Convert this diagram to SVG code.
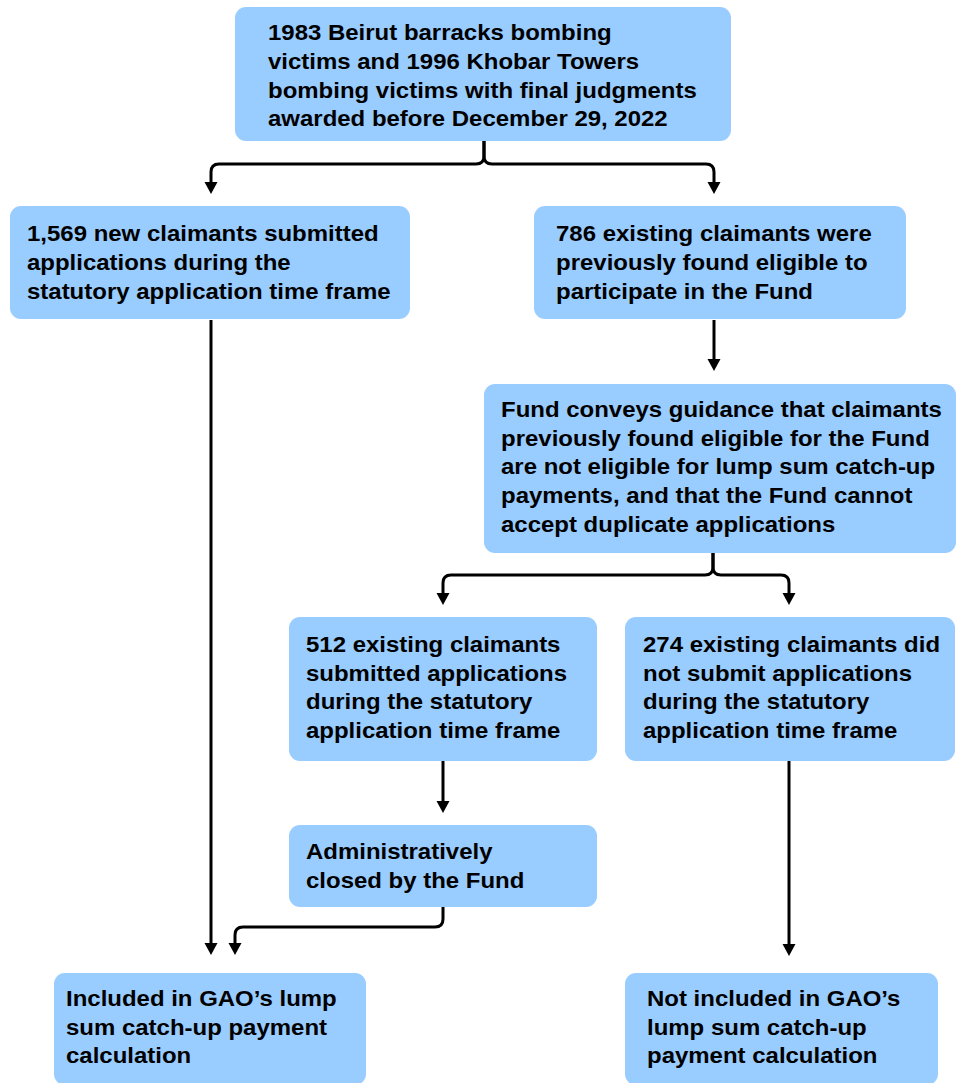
<svg xmlns="http://www.w3.org/2000/svg" width="961" height="1083" viewBox="0 0 961 1083">
<style>
.box{fill:#99CCFF;}
.t{font-family:"Liberation Sans",Arial,sans-serif;font-weight:bold;font-size:22px;fill:#000;}
.c{fill:none;stroke:#000;stroke-width:3;marker-end:url(#ah);}
</style>
<defs>
<marker id="ah" markerUnits="userSpaceOnUse" markerWidth="12" markerHeight="14" refX="0" refY="6.5" orient="auto" viewBox="0 0 12 13">
<path d="M0,0 L12,6.5 L0,13 z" fill="#000"/>
</marker>
</defs>
<rect width="961" height="1083" fill="#fff"/>
<g id="connectors">
<path class="c" d="M484,141 V156 Q484,164 476,164 H219 Q211,164 211,172 V182"/>
<path class="c" d="M484,141 V156 Q484,164 492,164 H706 Q714,164 714,172 V182"/>
<path class="c" d="M714,320 V359"/>
<path class="c" d="M713,553 V567 Q713,575 705,575 H451 Q443,575 443,583 V593"/>
<path class="c" d="M713,553 V567 Q713,575 721,575 H781 Q789,575 789,583 V593"/>
<path class="c" d="M443,761 V801"/>
<path class="c" d="M211,320 V943"/>
<path class="c" d="M443,907 V919 Q443,927 435,927 H243 Q235,927 235,935 V943"/>
<path class="c" d="M789,761 V944"/>
</g>
<g id="n-top">
<rect class="box" x="235" y="7" width="496" height="134" rx="11"/>
<text class="t" transform="translate(268,40) scale(1.09,1)"><tspan x="0">1983 Beirut barracks bombing</tspan><tspan x="0" dy="28.8">victims and 1996 Khobar Towers</tspan><tspan x="0" dy="28.8">bombing victims with final judgments</tspan><tspan x="0" dy="28.8">awarded before December 29, 2022</tspan></text>
</g>
<g id="n-new">
<rect class="box" x="10" y="206" width="400" height="113" rx="11"/>
<text class="t" transform="translate(27,241) scale(1.09,1)"><tspan x="0">1,569 new claimants submitted</tspan><tspan x="0" dy="28.8">applications during the</tspan><tspan x="0" dy="28.8">statutory application time frame</tspan></text>
</g>
<g id="n-existing">
<rect class="box" x="534" y="206" width="372" height="113" rx="11"/>
<text class="t" transform="translate(556,241) scale(1.09,1)"><tspan x="0">786 existing claimants were</tspan><tspan x="0" dy="28.8">previously found eligible to</tspan><tspan x="0" dy="28.8">participate in the Fund</tspan></text>
</g>
<g id="n-guidance">
<rect class="box" x="484" y="384" width="472" height="169" rx="11"/>
<text class="t" transform="translate(501,417) scale(1.09,1)"><tspan x="0">Fund conveys guidance that claimants</tspan><tspan x="0" dy="28.75">previously found eligible for the Fund</tspan><tspan x="0" dy="28.75">are not eligible for lump sum catch-up</tspan><tspan x="0" dy="28.75">payments, and that the Fund cannot</tspan><tspan x="0" dy="28.75">accept duplicate applications</tspan></text>
</g>
<g id="n-512">
<rect class="box" x="289" y="617" width="308" height="144" rx="11"/>
<text class="t" transform="translate(306,652) scale(1.09,1)"><tspan x="0">512 existing claimants</tspan><tspan x="0" dy="28.75">submitted applications</tspan><tspan x="0" dy="28.75">during the statutory</tspan><tspan x="0" dy="28.75">application time frame</tspan></text>
</g>
<g id="n-274">
<rect class="box" x="625" y="617" width="330" height="144" rx="11"/>
<text class="t" transform="translate(643,652) scale(1.09,1)"><tspan x="0">274 existing claimants did</tspan><tspan x="0" dy="28.75">not submit applications</tspan><tspan x="0" dy="28.75">during the statutory</tspan><tspan x="0" dy="28.75">application time frame</tspan></text>
</g>
<g id="n-closed">
<rect class="box" x="289" y="825" width="308" height="82" rx="11"/>
<text class="t" transform="translate(306,859) scale(1.09,1)"><tspan x="0">Administratively</tspan><tspan x="0" dy="28.75">closed by the Fund</tspan></text>
</g>
<g id="n-included">
<rect class="box" x="54" y="973" width="312" height="112" rx="11"/>
<text class="t" transform="translate(66,1006) scale(1.09,1)"><tspan x="0">Included in GAO’s lump</tspan><tspan x="0" dy="28.75">sum catch-up payment</tspan><tspan x="0" dy="28.75">calculation</tspan></text>
</g>
<g id="n-notincluded">
<rect class="box" x="625" y="973" width="313" height="112" rx="11"/>
<text class="t" transform="translate(647,1006) scale(1.09,1)"><tspan x="0">Not included in GAO’s</tspan><tspan x="0" dy="28.75">lump sum catch-up</tspan><tspan x="0" dy="28.75">payment calculation</tspan></text>
</g>
</svg>
